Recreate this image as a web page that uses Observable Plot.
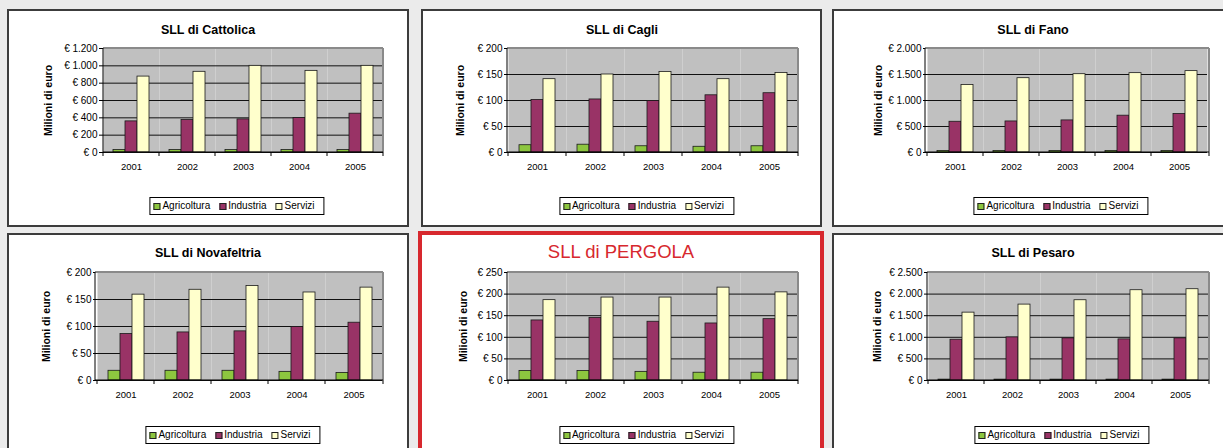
<!DOCTYPE html>
<html><head><meta charset="utf-8">
<script src="https://cdn.jsdelivr.net/npm/d3@7"></script>
<script src="https://cdn.jsdelivr.net/npm/@observablehq/plot@0.6"></script>
<style>
html,body{margin:0;padding:0;}
body{width:1223px;height:448px;overflow:hidden;background:#ebebeb;position:relative;font-family:"Liberation Sans",Arial,sans-serif;}
.panel{position:absolute;background:#fff;border:2px solid #3c3c3c;box-sizing:border-box;}
.panel.hl{border:4px solid #d7282e;}
.title{position:absolute;font-weight:bold;font-size:12.5px;color:#000;white-space:nowrap;transform:translate(-50%,-50%);}
.title.hl{font-weight:normal;font-size:18.5px;color:#d7282e;}
.legend{position:absolute;border:1px solid #000;background:#fff;display:flex;align-items:center;font-size:10px;line-height:12px;padding:2px 9px 2px 3px;transform:translate(-50%,-50%);white-space:nowrap;color:#000;}
.legend .item{display:flex;align-items:center;margin-right:9px}
.legend .item:last-child{margin-right:0}
.legend .sw{width:5px;height:5px;border:1px solid #222;margin-right:2px}
.chart{position:absolute;}
</style></head><body><script>
// ---- data ----
const years = ["2001", "2002", "2003", "2004", "2005"];
const series = ["Agricoltura", "Industria", "Servizi"];
const seriesColors = ["#8dc63f", "#993366", "#ffffcc"];

const cattolicaAgricoltura = [28, 28, 28, 28, 28];
const cattolicaIndustria = [359, 375, 382, 398, 448];
const cattolicaServizi = [876, 931, 1000, 942, 1000];
const cattolicaTicks = [0, 200, 400, 600, 800, 1000, 1200];

const cagliAgricoltura = [14, 15, 12, 11, 12];
const cagliIndustria = [101, 102, 99, 110, 114];
const cagliServizi = [141, 150, 155, 141, 153];
const cagliTicks = [0, 50, 100, 150, 200];

const fanoAgricoltura = [30, 30, 30, 30, 30];
const fanoIndustria = [591, 597, 617, 708, 740];
const fanoServizi = [1299, 1429, 1506, 1526, 1565];
const fanoTicks = [0, 500, 1000, 1500, 2000];

const novafeltriaAgricoltura = [18, 18, 18, 16, 14];
const novafeltriaIndustria = [86, 89, 91, 99, 107];
const novafeltriaServizi = [159, 168, 175, 163, 172];
const novafeltriaTicks = [0, 50, 100, 150, 200];

const pergolaAgricoltura = [22, 22, 20, 18, 18];
const pergolaIndustria = [139, 145, 136, 132, 142];
const pergolaServizi = [186, 192, 192, 215, 204];
const pergolaTicks = [0, 50, 100, 150, 200, 250];

const pesaroAgricoltura = [20, 20, 20, 20, 20];
const pesaroIndustria = [944, 998, 975, 952, 975];
const pesaroServizi = [1571, 1757, 1858, 2090, 2113];
const pesaroTicks = [0, 500, 1000, 1500, 2000, 2500];

const panelTitles = ["SLL di Cattolica", "SLL di Cagli", "SLL di Fano", "SLL di Novafeltria", "SLL di PERGOLA", "SLL di Pesaro"];
const yLabel = "Milioni di euro";

// ---- layout (page px) ----
const panels = [
  {title: panelTitles[0], values: [cattolicaAgricoltura, cattolicaIndustria, cattolicaServizi], ticks: cattolicaTicks,
   box: [7, 9, 402, 218], plot: [103, 383, 48, 152], titleXY: [208, 30], labDist: 54, legY: 206},
  {title: panelTitles[1], values: [cagliAgricoltura, cagliIndustria, cagliServizi], ticks: cagliTicks,
   box: [421, 9, 401, 218], plot: [507, 798, 48, 152], titleXY: [622, 30], labDist: 47, legY: 206},
  {title: panelTitles[2], values: [fanoAgricoltura, fanoIndustria, fanoServizi], ticks: fanoTicks,
   box: [832, 9, 402, 218], plot: [925, 1209, 48, 152], titleXY: [1033, 30], labDist: 48, legY: 206},
  {title: panelTitles[3], values: [novafeltriaAgricoltura, novafeltriaIndustria, novafeltriaServizi], ticks: novafeltriaTicks,
   box: [7, 233, 402, 218], plot: [95, 383, 272, 380], titleXY: [208, 253], labDist: 50, legY: 435},
  {title: panelTitles[4], values: [pergolaAgricoltura, pergolaIndustria, pergolaServizi], ticks: pergolaTicks, hl: true,
   box: [418, 231, 406, 222], plot: [507, 798, 272, 380], titleXY: [621, 252], labDist: 44, legY: 435},
  {title: panelTitles[5], values: [pesaroAgricoltura, pesaroIndustria, pesaroServizi], ticks: pesaroTicks,
   box: [832, 233, 402, 218], plot: [927, 1209, 272, 380], titleXY: [1033, 253], labDist: 50, legY: 435}
];

const locale = d3.formatLocale({decimal: ",", thousands: ".", grouping: [3], currency: ["€ ", ""]});
const fmtEuro = locale.format("$,");

const ML = 80, MR = 8, MT = 8, MB = 24;

function el(tag, cls, parent) { const e = document.createElement(tag); if (cls) e.className = cls; (parent || document.body).appendChild(e); return e; }

panels.forEach(p => {
  const box = el("div", "panel" + (p.hl ? " hl" : ""));
  Object.assign(box.style, {left: p.box[0] + "px", top: p.box[1] + "px", width: p.box[2] + "px", height: p.box[3] + "px"});

  const t = el("div", "title" + (p.hl ? " hl" : ""));
  t.textContent = p.title;
  Object.assign(t.style, {left: p.titleXY[0] + "px", top: p.titleXY[1] + "px"});

  const data = [];
  years.forEach((yr, i) => series.forEach((s, j) => data.push({year: yr, series: s, value: p.values[j][i]})));

  const [pl, pr, pt, pb] = p.plot;
  const W = pr - pl, H = pb - pt;
  const ymax = p.ticks[p.ticks.length - 1];

  const chart = Plot.plot({
    width: ML + W + MR, height: MT + H + MB,
    marginLeft: ML, marginRight: MR, marginTop: MT, marginBottom: MB,
    style: {fontFamily: "'Liberation Sans', Arial, sans-serif", fontSize: "10px", background: "transparent", overflow: "visible", color: "#000"},
    fx: {domain: years, padding: 0, label: null},
    x: {domain: series, paddingInner: 0, paddingOuter: 0.75, axis: null},
    y: {domain: [0, ymax], label: null},
    color: {domain: series, range: seriesColors},
    marks: [
      Plot.frame({fill: "#c0c0c0", stroke: null}),
      Plot.gridY(p.ticks, {stroke: "#111", strokeOpacity: 1, strokeWidth: 1}),
      Plot.barY(data, {fx: "year", x: "series", y: "value", fill: "series", stroke: "#1a1a1a", strokeWidth: 0.8}),
      Plot.axisY(p.ticks, {tickFormat: fmtEuro, tickSize: 4, tickPadding: 2, label: yLabel, labelArrow: "none", labelAnchor: "center", labelOffset: p.labDist + 5}),
      Plot.axisFx({anchor: "bottom", tickSize: 0, tickPadding: 11, label: null, fontSize: 9.5})
    ]
  });
  chart.classList.add("chart");
  Object.assign(chart.style, {left: (pl - ML) + "px", top: (pt - MT) + "px"});
  document.body.appendChild(chart);

  // plot-area outline and category boundary ticks from the scales
  const svg = d3.select(chart);
  svg.selectAll('g[aria-label="y-axis label"] text')
    .attr("font-weight", "bold").attr("font-size", 10.5)
    .each(function() { const tx = this.textContent.replace(/\s*[↑↓]\s*/g, ""); if (tx !== this.textContent) this.textContent = tx; });
  const fx = chart.scale("fx"), ys = chart.scale("y");
  const [xa, xb] = fx.range, [yb, yt] = ys.range;
  const g = svg.append("g");
  g.append("line").attr("x1", xa).attr("x2", xb).attr("y1", yt).attr("y2", yt).attr("stroke", "#8a8a8a").attr("stroke-width", 2);
  g.append("line").attr("x1", xb).attr("x2", xb).attr("y1", yt).attr("y2", yb).attr("stroke", "#8a8a8a").attr("stroke-width", 2);
  g.append("line").attr("x1", xa).attr("x2", xa).attr("y1", yt).attr("y2", yb + 0.5).attr("stroke", "#000");
  g.append("line").attr("x1", xa).attr("x2", xb).attr("y1", yb).attr("y2", yb).attr("stroke", "#000");
  const bounds = years.map(v => fx.apply(v)).concat([xb]);
  bounds.forEach(bx => g.append("line").attr("x1", bx).attr("x2", bx).attr("y1", yb).attr("y2", yb + 4).attr("stroke", "#000"));

  // legend
  const leg = el("div", "legend");
  series.forEach((s, j) => {
    const it = el("div", "item", leg);
    const sw = el("span", "sw", it); sw.style.background = seriesColors[j];
    const tx = el("span", null, it); tx.textContent = s;
  });
  Object.assign(leg.style, {left: ((pl + pr) / 2 - 6) + "px", top: p.legY + "px"});
});
</script></body></html>
